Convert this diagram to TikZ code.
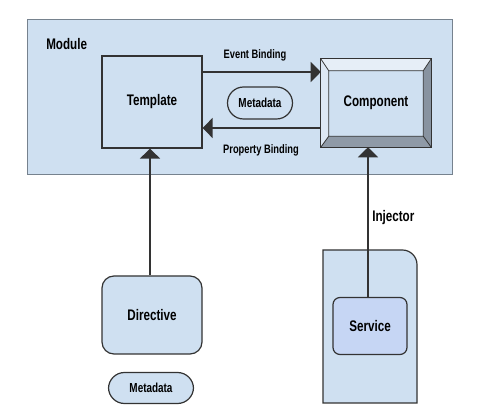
\documentclass[tikz,border=0pt]{standalone}
\usepackage{fontspec}
\setmainfont{Liberation Sans}[FakeStretch=0.76]
\usepackage{xcolor}
\usepackage{tikz}
\usetikzlibrary{arrows.meta,calc}

\definecolor{modfill}{HTML}{CFE0F1}
\definecolor{srvfill}{HTML}{C6D6F4}
\definecolor{edge}{HTML}{333333}
\definecolor{modedge}{HTML}{76828E}
\definecolor{bevtop}{HTML}{E6EEF7}
\definecolor{bevleft}{HTML}{DDE8F4}
\definecolor{bevright}{HTML}{8893A0}
\definecolor{bevbot}{HTML}{8F9AA7}

\begin{document}
\begin{tikzpicture}[x=0.75pt,y=-0.75pt,
  box/.style={draw=edge, line width=0.9pt, fill=modfill, anchor=center, font=\fontsize{11.5}{13}\selectfont\bfseries},
  pill/.style={box, rounded corners=12pt, font=\fontsize{9.8}{11}\selectfont\bfseries},
  lbl/.style={font=\fontsize{9.2}{11}\selectfont\bfseries, inner sep=0pt},
  arr/.style={draw=edge, line width=1.1pt, -{Triangle[length=7.5pt,width=15pt]}}]
\useasboundingbox[fill=white] (0,0) rectangle (493,420);
% module
\node[draw=modedge, line width=0.7pt, fill=modfill, minimum width=318.75pt, minimum height=116.25pt] (mod) at (239.5,96.5) {};
\node[anchor=west, inner sep=0pt, font=\fontsize{11.5}{13}\selectfont\bfseries] (modlbl) at (46,44) {Module};
\node[box, minimum width=75pt, minimum height=69pt] (tpl) at (152,102) {Template};
\node[minimum width=82.5pt, minimum height=66pt, inner sep=0pt] (comp) at (376,103) {};
% bevel of component
\coordinate (c1) at ($(comp.north west)+(8,12)$);
\coordinate (c2) at ($(comp.north east)+(-8,12)$);
\coordinate (c3) at ($(comp.south east)+(-8,-11)$);
\coordinate (c4) at ($(comp.south west)+(8,-11)$);
\fill[bevtop] (comp.north west) -- (comp.north east) -- (c2) -- (c1) -- cycle;
\fill[bevleft] (comp.north west) -- (c1) -- (c4) -- (comp.south west) -- cycle;
\fill[bevright] (comp.north east) -- (comp.south east) -- (c3) -- (c2) -- cycle;
\fill[bevbot] (comp.south west) -- (c4) -- (c3) -- (comp.south east) -- cycle;
\fill[modfill] (c1) rectangle (c3);
\draw[edge, line width=0.6pt] (comp.north west) -- (c1) (comp.north east) -- (c2) (comp.south east) -- (c3) (comp.south west) -- (c4) (c1) rectangle (c3);
\draw[edge, line width=0.9pt] (comp.north west) rectangle (comp.south east);
\node[font=\fontsize{11.5}{13}\selectfont\bfseries] (complbl) at (comp.center) {Component};
\node[pill, minimum width=48.75pt, minimum height=24pt] (meta) at (260,103) {Metadata};
\draw[arr] (tpl.east |- 0,72) -- (comp.west |- 0,72);
\draw[arr] (comp.west |- 0,128) -- (tpl.east |- 0,128);
\node[lbl] (evt) at (255,55) {Event Binding};
\node[lbl] (prop) at (261,150) {Property Binding};
% directive
\node[box, rounded corners=9pt, minimum width=75pt, minimum height=58.5pt] (dir) at (152,315) {Directive};
\node[pill, minimum width=63.75pt, minimum height=23.25pt] (meta2) at (151,388) {Metadata};
\draw[arr] (dir.north -| 150,0) -- (tpl.south -| 150,0);
% injector
\draw[draw=edge, line width=0.9pt, fill=modfill] (323,403) -- (323,250) [rounded corners=11pt] -- (417,250) [sharp corners] -- (417,403) -- cycle;
\node[box, fill=srvfill, rounded corners=5.25pt, minimum width=55.5pt, minimum height=42.75pt] (srv) at (370,326) {Service};
\draw[arr] (srv.north -| 368,0) -- (comp.south -| 368,0);
\node[anchor=west, inner sep=0pt, font=\fontsize{11.5}{13}\selectfont\bfseries] (inj) at (372,218) {Injector};
\end{tikzpicture}
\end{document}
